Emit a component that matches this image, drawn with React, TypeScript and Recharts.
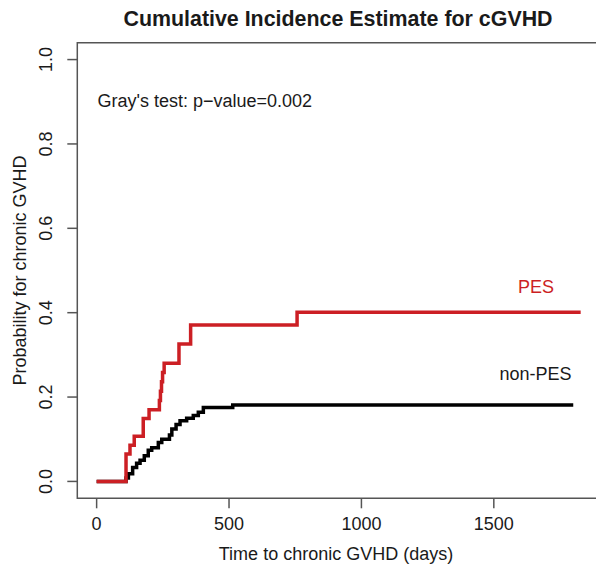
import React from 'react';
import { LineChart, Line, XAxis, YAxis, ReferenceArea } from 'recharts';

// ---- data ----
const pesDays = [0, 111, 126, 142, 176, 198, 237, 241, 245, 249, 255, 311, 355, 757, 1828];
const pesProb = [0, 0.065, 0.086, 0.107, 0.149, 0.17, 0.192, 0.214, 0.236, 0.258, 0.28, 0.326, 0.371, 0.401, 0.401];

const nonPesDays = [0, 111, 120, 136, 151, 164, 180, 195, 208, 233, 246, 275, 284, 300, 315, 340, 365, 384, 403, 514, 1800];
const nonPesProb = [0, 0.008, 0.018, 0.033, 0.043, 0.05, 0.061, 0.074, 0.08, 0.092, 0.1, 0.11, 0.124, 0.135, 0.144, 0.15, 0.156, 0.164, 0.175, 0.181, 0.181];

const xTicks = [0, 500, 1000, 1500];
const yTicks = [0, 0.2, 0.4, 0.6, 0.8, 1.0];
const xDomain: [number, number] = [-73, 1901];
const yDomain: [number, number] = [-0.04, 1.04];

const titleText = 'Cumulative Incidence Estimate for cGVHD';
const testText = "Gray's test: p\u2212value=0.002";
const xLabel = 'Time to chronic GVHD (days)';
const yLabel = 'Probability for chronic GVHD';
const pesLabel = 'PES';
const nonPesLabel = 'non-PES';

const pesData = pesDays.map((d, i) => ({ x: d, y: pesProb[i] }));
const nonPesData = nonPesDays.map((d, i) => ({ x: d, y: nonPesProb[i] }));

const FONT = '"Liberation Sans", Arial, Helvetica, sans-serif';
const RED = '#cc1f24';
const TXT = '#1a1a1a';
const AXIS = '#555555';

const XTick = (props: any) => {
  const { x, y, payload } = props;
  return (
    <text x={x} y={y + 22} textAnchor="middle" fontSize={18} fontFamily={FONT} fill={TXT}>
      {payload.value}
    </text>
  );
};

const YTick = (props: any) => {
  const { y, payload } = props;
  const cx = 52;
  return (
    <text
      x={cx}
      y={y}
      transform={`rotate(-90, ${cx}, ${y})`}
      textAnchor="middle"
      fontSize={18}
      fontFamily={FONT}
      fill={TXT}
    >
      {Number(payload.value).toFixed(1)}
    </text>
  );
};

export default function App() {
  return (
    <div style={{ position: 'absolute', left: 0, top: 0, width: 596, height: 565, overflow: 'hidden', background: '#fff' }}>
      <LineChart width={600} height={565} margin={{ top: 42.7, right: 0, bottom: 0, left: 0 }}>
        <XAxis
          type="number"
          dataKey="x"
          domain={xDomain}
          ticks={xTicks}
          allowDataOverflow
          axisLine={false}
          tickLine={{ stroke: AXIS, strokeWidth: 1.5 }}
          tickSize={10}
          tickMargin={0}
          height={66.7}
          tick={<XTick />}
          interval={0}
        />
        <YAxis
          type="number"
          dataKey="y"
          domain={yDomain}
          ticks={yTicks}
          allowDataOverflow
          axisLine={false}
          tickLine={{ stroke: AXIS, strokeWidth: 1.5 }}
          tickSize={10}
          tickMargin={0}
          width={77.3}
          tick={<YTick />}
          interval={0}
        />
        <ReferenceArea
          x1={xDomain[0]}
          x2={xDomain[1]}
          y1={yDomain[0]}
          y2={yDomain[1]}
          fill="none"
          fillOpacity={0}
          stroke={AXIS}
          strokeWidth={1.5}
          ifOverflow="visible"
        />
        <Line
          data={nonPesData}
          dataKey="y"
          type="stepAfter"
          stroke="#000"
          strokeWidth={3.5}
          dot={false}
          isAnimationActive={false}
        />
        <Line
          data={pesData}
          dataKey="y"
          type="stepAfter"
          stroke={RED}
          strokeWidth={3.5}
          dot={false}
          isAnimationActive={false}
        />
      </LineChart>
      <svg
        width={596}
        height={565}
        style={{ position: 'absolute', left: 0, top: 0, pointerEvents: 'none' }}
      >
        <text x={338} y={25.5} textAnchor="middle" fontSize={21.4} fontWeight="bold" fontFamily={FONT} fill={TXT}>
          {titleText}
        </text>
        <text x={97.5} y={107} fontSize={18} fontFamily={FONT} fill={TXT}>
          {testText}
        </text>
        <text x={536} y={293} textAnchor="middle" fontSize={18} fontFamily={FONT} fill={RED}>
          {pesLabel}
        </text>
        <text x={535.5} y={380} textAnchor="middle" fontSize={18} fontFamily={FONT} fill={TXT}>
          {nonPesLabel}
        </text>
        <text x={336} y={560} textAnchor="middle" fontSize={18} fontFamily={FONT} fill={TXT}>
          {xLabel}
        </text>
        <text
          x={25.5}
          y={270.5}
          transform="rotate(-90, 25.5, 270.5)"
          textAnchor="middle"
          fontSize={18}
          fontFamily={FONT}
          fill={TXT}
        >
          {yLabel}
        </text>
      </svg>
    </div>
  );
}
